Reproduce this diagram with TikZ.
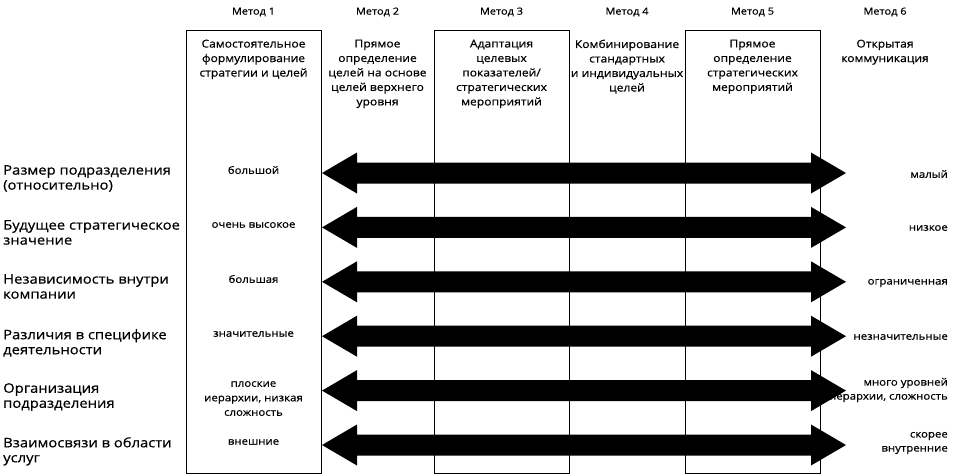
\documentclass[tikz,border=0pt]{standalone}
\usepackage{fontspec}
\setmainfont{Open Sans}[FakeStretch=1.12, FakeBold=0.6]
\usetikzlibrary{calc}
\begin{document}
\begin{tikzpicture}[x=1pt,y=-1pt,
  hdr/.style={font=\fontsize{9.8}{11}\selectfont, inner sep=0pt},
  boxtxt/.style={font=\fontsize{10.8}{14.5}\selectfont, align=center, anchor=north, inner sep=0pt},
  rowlbl/.style={font=\fontsize{13.2}{15}\selectfont, align=left, anchor=north west, inner sep=0pt},
  val/.style={font=\fontsize{10.2}{14.5}\selectfont, align=center, inner sep=0pt},
  rval/.style={font=\fontsize{10.2}{14}\selectfont, align=right, anchor=east, inner sep=0pt},
  methbox/.style={draw, line width=1.3pt, anchor=north west, inner sep=0pt, minimum width=135pt, minimum height=443pt},
  bigarrow/.style={fill=black}
]
\useasboundingbox (0,0) rectangle (954,475);

% boxes
\node[methbox] (b1) at (186,30) {};
\node[methbox] (b3) at (434,30) {};
\node[methbox] (b5) at (685,30) {};

% headers
\node[hdr] (h1) at (253.5,12) {Метод 1};
\node[hdr] (h2) at (377.5,12) {Метод 2};
\node[hdr] (h3) at (501.5,12) {Метод 3};
\node[hdr] (h4) at (627,12) {Метод 4};
\node[hdr] (h5) at (752.5,12) {Метод 5};
\node[hdr] (h6) at (885,12) {Метод 6};

% box texts
\node[boxtxt] (t1) at (253.5,39.5) {Самостоятельное\\формулирование\\стратегии и целей};
\node[boxtxt] (t2) at (377.5,39.5) {Прямое\\определение\\целей на основе\\целей верхнего\\уровня};
\node[boxtxt] (t3) at (501.5,39.5) {Адаптация\\целевых\\показателей/\\стратегических\\мероприятий};
\node[boxtxt] (t4) at (627,39.5) {Комбинирование\\стандартных\\и индивидуальных\\целей};
\node[boxtxt] (t5) at (752.5,39.5) {Прямое\\определение\\стратегических\\мероприятий};
\node[boxtxt] (t6) at (885,39.5) {Открытая\\коммуникация};

% arrows
\foreach \i/\y in {1/173,2/227.4,3/281.8,4/336.2,5/390.6,6/445}{
  \coordinate (L\i) at (322,\y);
  \coordinate (R\i) at (846,\y);
  \fill[bigarrow] (L\i) -- ++(35,-20.5) -- ++(0,10) -- ($(R\i)+(-35,-10.5)$) -- ++(0,-10) -- (R\i)
     -- ++(-35,20.5) -- ++(0,-10) -- ($(L\i)+(35,10.5)$) -- ++(0,10) -- cycle;
}

% row labels
\node[rowlbl] (r1) at (3,165) {Размер подразделения\\(относительно)};
\node[rowlbl] (r2) at (3,220) {Будущее стратегическое\\значение};
\node[rowlbl] (r3) at (3,274) {Независимость внутри\\компании};
\node[rowlbl] (r4) at (3,329) {Различия в специфике\\деятельности};
\node[rowlbl] (r5) at (3,383) {Организация\\подразделения};
\node[rowlbl] (r6) at (3,437) {Взаимосвязи в области\\услуг};

% left values
\node[val] (v1) at (253.5,170) {большой};
\node[val] (v2) at (253.5,225) {очень высокое};
\node[val] (v3) at (253.5,279) {большая};
\node[val] (v4) at (253.5,334) {значительные};
\node[val, anchor=north] (v5) at (253.5,381) {плоские\\иерархии, низкая\\сложность};
\node[val] (v6) at (253.5,442) {внешние};

% right values
\node[rval] (w1) at (948,174) {малый};
\node[rval] (w2) at (948,228) {низкое};
\node[rval] (w3) at (948,283) {ограниченная};
\node[rval] (w4) at (948,337) {незначительные};
\node[rval] (w5) at (948,390) {много уровней\\иерархии, сложность};
\node[rval] (w6) at (948,443) {скорее\\внутренние};
\end{tikzpicture}
\end{document}
